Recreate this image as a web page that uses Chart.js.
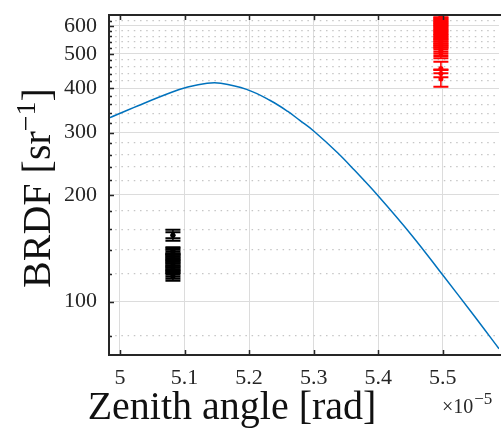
<!DOCTYPE html>
<html>
<head>
<meta charset="utf-8">
<script src="https://cdn.jsdelivr.net/npm/chart.js@4.4.1/dist/chart.umd.min.js"></script>
<style>
  html, body { margin: 0; padding: 0; background: #fff; }
  canvas { display: block; }
</style>
</head>
<body>
<canvas id="chart" width="503" height="428"></canvas>
<script>
// zenith angle in units of 1e-5 rad
const curveX = [4.977, 5.028, 5.079, 5.105, 5.135, 5.156, 5.196, 5.232, 5.260, 5.278, 5.300, 5.337, 5.363, 5.398, 5.453, 5.499, 5.547, 5.587];
const curveY = [326, 357, 389, 403, 413, 413, 397, 370, 344, 325, 303, 263, 235, 200.5, 153, 119.4, 92, 73.6];

const blackX = 5.082;
const blackY    = [154, 154, 117.5, 119, 120.5, 122, 123.5, 125, 126.5, 128, 129.5, 131, 132.5, 134, 135.5, 137, 138.5, 139.5];
const blackLow  = [148.6, 151, 114.6, 116, 117.5, 119, 120.5, 122, 123.5, 125, 126.5, 128, 129.5, 131, 132.5, 134, 135.5, 136.5];
const blackHigh = [159.6, 157, 120.5, 122, 123.5, 125, 126.5, 128, 129.5, 131, 132.5, 134, 135.5, 137, 138.5, 140, 141.5, 142.4];

const redX = 5.497;
const redY    = [455, 425, 440, 503, 510, 517, 524, 531, 538, 545, 552, 560, 568, 576, 584, 592, 600, 608, 616, 624, 632, 640, 648];
const redLow  = [441, 404, 429.5, 486, 493, 500, 507, 514, 521, 528, 535, 543, 551, 559, 567, 575, 583, 591, 599, 607, 615, 623, 631];
const redHigh = [475, 450, 452, 520, 527, 534, 541, 548, 555, 562, 569, 577, 585, 593, 601, 609, 617, 625, 633, 641, 649, 657, 665];

const xTicks = [5, 5.1, 5.2, 5.3, 5.4, 5.5];
const xTickLabels = ['5', '5.1', '5.2', '5.3', '5.4', '5.5'];
const yTicks = [80, 100, 120, 140, 160, 180, 200, 220, 240, 260, 280, 300, 320, 340, 360, 380, 400,
                420, 440, 460, 480, 500, 520, 540, 560, 580, 600, 620];
const yTickLabels = ['100', '200', '300', '400', '500', '600'];

const serif = '"Liberation Serif", "DejaVu Serif", serif';
const axisColor = '#262626';

function isMajor(v) {
  return yTickLabels.indexOf(String(v)) >= 0;
}

function noPad(s) {
  s.paddingTop = 0;
  s.paddingBottom = 0;
  s.paddingLeft = 0;
  s.paddingRight = 0;
}

const bars = [
  { x: blackX, low: blackLow, high: blackHigh, color: '#000000' },
  { x: redX, low: redLow, high: redHigh, color: '#ff0000' }
];

const errorBars = {
  id: 'errorBars',
  afterDatasetsDraw(chart) {
    const ctx = chart.ctx, a = chart.chartArea;
    const xs = chart.scales.x, ys = chart.scales.y;
    ctx.save();
    ctx.beginPath();
    ctx.rect(a.left, a.top, a.right - a.left, a.bottom - a.top);
    ctx.clip();
    bars.forEach(b => {
      const px = xs.getPixelForValue(b.x);
      ctx.strokeStyle = b.color;
      b.low.forEach((lo, i) => {
        const y0 = ys.getPixelForValue(lo);
        const y1 = ys.getPixelForValue(b.high[i]);
        ctx.lineWidth = 1.5;
        ctx.beginPath();
        ctx.moveTo(px, y0);
        ctx.lineTo(px, y1);
        ctx.stroke();
        ctx.lineWidth = 2;
        ctx.beginPath();
        ctx.moveTo(px - 7.5, y0); ctx.lineTo(px + 7.5, y0);
        ctx.moveTo(px - 7.5, y1); ctx.lineTo(px + 7.5, y1);
        ctx.stroke();
      });
    });
    ctx.restore();
  }
};

const frame = {
  id: 'frame',
  afterDraw(chart) {
    const ctx = chart.ctx, a = chart.chartArea;
    const xs = chart.scales.x, ys = chart.scales.y;
    ctx.save();
    ctx.strokeStyle = axisColor;
    ctx.lineWidth = 1.5;
    ctx.beginPath();
    xTicks.forEach(v => {
      const px = Math.round(xs.getPixelForValue(v)) + 0.5;
      ctx.moveTo(px, a.bottom); ctx.lineTo(px, a.bottom - 5);
      ctx.moveTo(px, a.top); ctx.lineTo(px, a.top + 5);
    });
    yTicks.forEach(v => {
      const py = Math.round(ys.getPixelForValue(v)) + 0.5;
      ctx.moveTo(a.left, py); ctx.lineTo(a.left + (isMajor(v) ? 5 : 3), py);
    });
    ctx.stroke();

    ctx.lineWidth = 2;
    ctx.beginPath();
    ctx.moveTo(a.right + 2, a.top);
    ctx.lineTo(a.left, a.top);
    ctx.lineTo(a.left, a.bottom);
    ctx.lineTo(a.right + 2, a.bottom);
    ctx.stroke();

    ctx.fillStyle = '#111';
    // x title
    ctx.font = '40px ' + serif;
    ctx.textAlign = 'center';
    ctx.textBaseline = 'alphabetic';
    ctx.fillText('Zenith angle [rad]', 232, 419);

    // y title, rotated, with superscript
    ctx.save();
    ctx.translate(50, 188);
    ctx.rotate(-Math.PI / 2);
    ctx.textAlign = 'left';
    ctx.font = '40px ' + serif;
    const w1 = ctx.measureText('BRDF [sr').width;
    const w3 = ctx.measureText(']').width;
    ctx.font = '28px ' + serif;
    const w2 = ctx.measureText('\u22121').width;
    let cx = -(w1 + w2 + w3) / 2;
    ctx.font = '40px ' + serif;
    ctx.fillText('BRDF [sr', cx, 0);
    cx += w1;
    ctx.font = '28px ' + serif;
    ctx.fillText('\u22121', cx, -15);
    cx += w2;
    ctx.font = '40px ' + serif;
    ctx.fillText(']', cx, 0);
    ctx.restore();

    // exponent of x axis
    ctx.fillStyle = axisColor;
    ctx.textAlign = 'left';
    ctx.font = '20px ' + serif;
    ctx.fillText('\u00d710', 442, 413);
    const we = ctx.measureText('\u00d710').width;
    ctx.font = '17px ' + serif;
    ctx.fillText('\u22125', 443 + we, 404);
    ctx.restore();
  }
};

const ctx = document.getElementById('chart').getContext('2d');
const chart = new Chart(ctx, {
  type: 'scatter',
  data: {
    datasets: [{
      label: 'model',
      data: curveX.map((x, i) => ({ x: x, y: curveY[i] })),
      showLine: true,
      borderColor: '#0072bd',
      borderWidth: 1.5,
      pointRadius: 0,
      tension: 0.4
    }, {
      label: 'black',
      data: blackY.map(y => ({ x: blackX, y: y })),
      pointRadius: 2.5,
      pointBackgroundColor: '#000000',
      pointBorderWidth: 0
    }, {
      label: 'red',
      data: redY.map(y => ({ x: redX, y: y })),
      pointRadius: 2.5,
      pointBackgroundColor: '#ff0000',
      pointBorderWidth: 0
    }]
  },
  options: {
    responsive: false,
    animation: false,
    devicePixelRatio: 1,
    layout: { padding: { top: 15, right: 0, bottom: 0, left: 0 } },
    plugins: {
      legend: { display: false },
      tooltip: { enabled: false }
    },
    scales: {
      x: {
        type: 'linear',
        min: 4.983,
        max: 5.587,
        afterFit: s => { s.height = 73; noPad(s); },
        afterBuildTicks: s => { s.ticks = xTicks.map(v => ({ value: v })); },
        grid: { color: '#dcdcdc', lineWidth: 1, drawTicks: false },
        border: { display: false },
        ticks: {
          autoSkip: false,
          maxRotation: 0,
          padding: 10,
          color: axisColor,
          font: { family: serif, size: 22 },
          callback: (v, i) => xTickLabels[i]
        }
      },
      y: {
        type: 'logarithmic',
        min: 70.7,
        max: 643.6,
        afterFit: s => { s.width = 109; noPad(s); },
        afterBuildTicks: s => { s.ticks = yTicks.map(v => ({ value: v })); },
        grid: {
          color: c => (c.tick && !isMajor(c.tick.value)) ? '#c6c6c6' : '#dcdcdc',
          lineWidth: c => (c.tick && !isMajor(c.tick.value)) ? 1.3 : 1,
          drawTicks: false
        },
        border: {
          display: false,
          dash: c => (c.tick && !isMajor(c.tick.value)) ? [1.5, 4.7] : []
        },
        ticks: {
          autoSkip: false,
          padding: 12,
          color: axisColor,
          font: { family: serif, size: 22 },
          callback: v => isMajor(v) ? String(v) : ''
        }
      }
    }
  },
  plugins: [errorBars, frame]
});
</script>
</body>
</html>
